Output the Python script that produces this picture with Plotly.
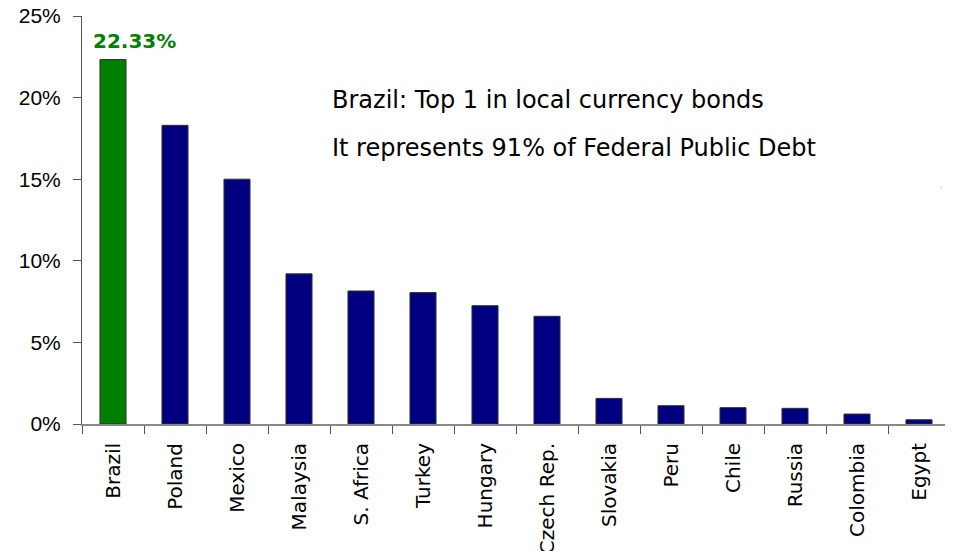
import plotly.graph_objects as go

countries = ["Brazil", "Poland", "Mexico", "Malaysia", "S. Africa", "Turkey", "Hungary",
             "Czech Rep.", "Slovakia", "Peru", "Chile", "Russia", "Colombia", "Egypt"]
shares = [22.33, 18.3, 15.0, 9.2, 8.15, 8.05, 7.25, 6.6, 1.57, 1.12, 1.0, 0.96, 0.61, 0.26]
bar_colors = ["#008000"] + ["#000080"] * (len(countries) - 1)

y_ticks = [0, 5, 10, 15, 20, 25]
y_tick_labels = ["0%", "5%", "10%", "15%", "20%", "25%"]
note_lines = ["Brazil: Top 1 in local currency bonds",
              "It represents 91% of Federal Public Debt"]

fig = go.Figure()
fig.add_trace(go.Bar(
    x=countries,
    y=shares,
    marker=dict(color=bar_colors, line=dict(color="#303030", width=1)),
    width=0.42,
    hoverinfo="x+y",
))

fig.add_annotation(
    x=countries[0], y=shares[0], text="<b>22.33%</b>",
    showarrow=False, xanchor="center", yanchor="bottom",
    xshift=21, yshift=5,
    font=dict(family="DejaVu Sans", size=20, color="#008000"),
)
for line, ypos in zip(note_lines, [0.794, 0.676]):
    fig.add_annotation(
        x=0.286, y=ypos, xref="paper", yref="paper", text=line,
        showarrow=False, xanchor="left", yanchor="middle",
        font=dict(family="DejaVu Sans", size=24, color="#000000"),
    )
# small stray dash at the right edge
fig.add_annotation(
    x=1.0, y=0.58, xref="paper", yref="paper", text="- -",
    showarrow=False, xanchor="right", yanchor="middle",
    font=dict(family="DejaVu Sans", size=7, color="#999999"),
)

# the page body has an 8px margin, so the figure is shrunk to fit the window
fig.update_layout(
    width=945, height=543,
    margin=dict(l=74, r=3, t=8, b=127),
    paper_bgcolor="white", plot_bgcolor="white",
    showlegend=False,
    font=dict(family="DejaVu Sans", color="#000000"),
)
fig.update_xaxes(
    type="category",
    showline=True, linecolor="#888888", linewidth=2,
    ticks="outside", tickson="boundaries", ticklen=8, tickcolor="#555555", tickwidth=1,
    tickangle=-90, ticklabelstandoff=9,
    tickfont=dict(family="DejaVu Sans", size=20, color="#000000"),
    showgrid=False, automargin=False,
)
fig.update_yaxes(
    range=[0, 25],
    tickmode="array", tickvals=y_ticks, ticktext=y_tick_labels,
    showline=True, linecolor="#555555", linewidth=1,
    ticks="outside", ticklen=8, tickcolor="#555555",
    ticklabelstandoff=8, ticklabeloverflow="allow",
    tickfont=dict(family="Liberation Sans", size=21, color="#000000"),
    showgrid=False, zeroline=False, automargin=False,
)

fig.write_html("out.html")
